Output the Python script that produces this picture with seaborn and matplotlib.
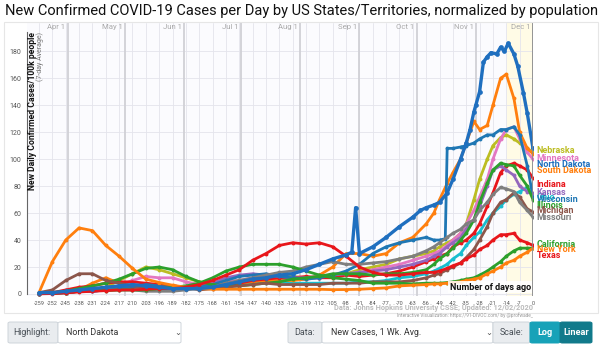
import matplotlib
matplotlib.use("Agg")
import matplotlib.pyplot as plt
import seaborn as sns
import pandas as pd
from matplotlib.patches import FancyBboxPatch, Rectangle

# ---------------- data ----------------
days = [-259, -252, -245, -238, -231, -224, -217, -210, -203, -196, -189, -182,
        -175, -168, -161, -154, -147, -140, -133, -126, -119, -112, -105, -98,
        -91, -84, -77, -70, -63, -56, -52, -49, -45, -42, -38, -35, -31, -28,
        -24, -21, -17, -14, -10, -7, -3, 0]

nd_days = [-259, -252, -245, -238, -231, -224, -217, -210, -203, -196, -189, -182,
           -175, -168, -161, -154, -147, -140, -133, -126, -119, -112, -105, -98,
           -95, -93, -91, -84, -77, -70, -63, -59, -56, -52, -49, -45, -42, -38, -35,
           -33, -31, -30, -28, -26, -24, -22, -19, -17, -15, -13, -10, -8, -5, -3, 0]
north_dakota = [1, 1, 2, 3, 4, 5, 6, 7, 6, 5, 4, 4, 4, 5, 7, 9, 11, 12, 14, 15, 18, 22,
                26, 29, 31, 64, 30, 35, 42, 50, 57, 62, 64, 66, 68, 75, 85, 100, 112,
                122, 135, 140, 150, 172, 176, 179, 178, 183, 180, 186, 178, 169, 149,
                134, 108]

wi_days = [-259, -252, -245, -238, -231, -224, -217, -210, -203, -196, -189, -182,
           -175, -168, -161, -154, -147, -140, -133, -126, -119, -112, -105, -98,
           -91, -84, -77, -70, -63, -56, -52, -49, -46, -45, -42, -38, -35, -31, -28,
           -24, -21, -17, -14, -10, -7, -3, 0]
wisconsin = [0.3, 0.5, 1, 2, 2, 3, 4, 5, 7, 6, 5, 5, 5, 7, 10, 13, 14, 15, 13, 12, 11,
             12, 14, 17, 22, 30, 35, 38, 40, 42, 40, 40, 41, 108, 108, 109, 110, 112,
             115, 118, 118, 122, 122, 124, 118, 95, 72]

south_dakota = [0.5, 1, 2, 3, 8, 12, 8, 6, 6, 6, 6, 5, 6, 7, 8, 8, 9, 10, 10, 10, 11, 14,
                20, 30, 30, 28, 30, 38, 42, 52, 60, 70, 82, 90, 100, 112, 128, 122, 125,
                140, 160, 163, 145, 120, 108, 104]
nebraska = [0.5, 1, 1, 2, 3, 5, 10, 15, 20, 18, 15, 12, 9, 8, 9, 10, 11, 12, 14, 13, 12,
            12, 14, 15, 18, 20, 22, 26, 28, 30, 32, 35, 38, 40, 45, 52, 70, 85, 100, 110,
            116, 118, 115, 112, 108, 105]
minnesota = [0.5, 1, 1, 2, 2, 3, 6, 10, 13, 12, 12, 9, 7, 7, 9, 10, 12, 12, 12, 12, 11,
             12, 14, 15, 16, 18, 20, 22, 25, 28, 30, 32, 36, 40, 45, 52, 62, 72, 85, 100,
             115, 122, 124, 115, 105, 100]
indiana = [0.5, 1, 3, 5, 6, 8, 9, 9, 8, 7, 6, 5, 5, 6, 7, 8, 10, 11, 12, 12, 13, 12, 12,
           14, 13, 14, 15, 17, 20, 24, 26, 28, 30, 35, 38, 40, 45, 52, 65, 75, 90, 95, 97,
           95, 92, 86]
illinois = [0.5, 1, 2, 4, 6, 8, 11, 15, 19, 20, 18, 13, 9, 7, 6, 6, 7, 8, 9, 11, 12, 13,
            15, 15, 15, 14, 15, 15, 16, 18, 22, 26, 30, 34, 40, 45, 55, 68, 82, 92, 97, 96,
            95, 88, 80, 70]
kansas = [0.3, 0.5, 1, 2, 2, 3, 4, 5, 5, 4, 4, 5, 6, 8, 12, 14, 15, 14, 13, 12, 12, 13,
          14, 15, 16, 17, 18, 20, 22, 25, 28, 30, 35, 38, 42, 48, 55, 65, 80, 92, 95, 92,
          88, 80, 76, 75]
ohio = [0.2, 0.5, 1, 2, 3, 4, 5, 5, 5, 4, 4, 4, 5, 7, 9, 10, 10, 9, 9, 8, 8, 8, 8, 8, 9,
        9, 10, 12, 13, 15, 17, 19, 22, 26, 30, 36, 42, 46, 55, 60, 65, 70, 74, 76, 79, 73]
michigan = [1, 3, 10, 15, 15, 10, 8, 6, 5, 5, 6, 5, 3, 4, 5, 6, 7, 8, 7, 7, 7, 7, 8, 8,
            8, 9, 9, 9, 10, 12, 14, 15, 18, 20, 23, 27, 33, 40, 50, 60, 68, 70, 75, 72, 63, 61]
missouri = [0.2, 0.5, 1, 2, 3, 3, 3, 3, 2, 2, 2, 3, 4, 5, 8, 10, 12, 14, 16, 17, 20, 22,
            24, 22, 22, 23, 24, 26, 28, 32, 35, 38, 42, 45, 48, 52, 55, 62, 68, 74, 79, 78,
            76, 68, 62, 57]
california = [0.3, 0.5, 1, 2, 3, 2.5, 3, 3, 3, 4, 5, 6, 8, 12, 17, 20, 22, 22, 22, 20, 17,
              14, 12, 11, 10, 8, 8, 8, 7.5, 8, 8, 8, 8.5, 9, 10, 11, 12, 14, 17, 20, 24, 28,
              32, 34, 34, 34]
new_york = [1, 24, 40, 49, 47, 36, 28, 19, 11, 8.5, 6.5, 5, 4, 3.5, 3.5, 3.5, 3.5, 3.5,
            3.5, 3.5, 3.5, 3.5, 3.2, 3.3, 3.5, 4, 4.5, 6, 6.5, 7, 7.5, 7.5, 8, 8.5, 9, 10,
            11, 12, 15, 17, 20, 23, 25, 28, 31, 34]
texas = [0.1, 0.3, 0.8, 1.5, 2, 2.5, 3, 3, 3.5, 4, 4, 5, 7, 10, 14, 18, 25, 30, 36, 38,
         37, 38, 35, 28, 20, 16, 14, 14, 15, 16, 16, 17, 19, 21, 23, 26, 29, 33, 36, 40,
         44, 44, 45, 40, 38, 36]

state_names = ["Ohio", "Nebraska", "Minnesota", "South Dakota", "Indiana", "Kansas",
               "Wisconsin", "Illinois", "Michigan", "Missouri", "California", "New York",
               "Texas", "North Dakota"]
state_days = [days, days, days, days, days, days, wi_days, days, days, days, days, days,
              days, nd_days]
state_values = [ohio, nebraska, minnesota, south_dakota, indiana, kansas, wisconsin,
                illinois, michigan, missouri, california, new_york, texas, north_dakota]
state_colors = ["#17becf", "#bcbd22", "#e377c2", "#ff7f0e", "#e8161b", "#9467bd",
                "#1f77b4", "#2ca02c", "#8c564b", "#7f7f7f", "#2ca02c", "#ff7f0e",
                "#e8161b", "#1f6fbf"]
label_y = [71.8, 106.2, 100.7, 91.5, 81.4, 75.2, 69.8, 66.0, 61.6, 57.0, 37.0, 32.7,
           28.2, 96.3]

x_ticks = [-259, -252, -245, -238, -231, -224, -217, -210, -203, -196, -189, -182,
           -175, -168, -161, -154, -147, -140, -133, -126, -119, -112, -105, -98, -91,
           -84, -77, -70, -63, -56, -49, -42, -35, -28, -21, -14, -7, 0]
y_ticks = [0, 20, 40, 60, 80, 100, 120, 140, 160, 180]
month_names = ["Apr 1", "May 1", "Jun 1", "Jul 1", "Aug 1", "Sep 1", "Oct 1", "Nov 1", "Dec 1"]
month_days = [-244, -214, -183, -153, -122, -91, -61, -30, 0]

# ---------------- figure ----------------
sns.set_theme(style="white")
plt.rcParams['font.family'] = ['Roboto', 'DejaVu Sans']
plt.rcParams['axes.unicode_minus'] = False

W, H = 600, 345
fig = plt.figure(figsize=(6, 3.45), dpi=100)
fig.patch.set_facecolor("white")


def fx(x):
    return x / W


def fy(y):
    return 1 - y / H


# chart frame
fig.patches.append(Rectangle((fx(4), fy(313)), fx(594), (313 - 22) / H,
                             transform=fig.transFigure, fc="none", ec="#e6e6e6", lw=0.8))

ax = fig.add_axes([fx(27), fy(296), (533 - 27) / W, (296 - 23) / H])
ax.set_facecolor("#fbfbfe")
ax.set_xlim(-265.3, 0)
ax.set_ylim(-1.5, 201)

# highlight band (last two weeks)
ax.axvspan(-13.5, 0, color="#fffbe6", zorder=0)

# grid
for d in x_ticks:
    ax.axvline(d, color="#e4e4ec", lw=0.6, zorder=0.5)
for v in y_ticks:
    ax.axhline(v, color="#e4e4ec", lw=0.6, zorder=0.5)
for m, name in zip(month_days, month_names):
    ax.axvline(m, color="#d0d0d6", lw=1.3, zorder=0.6)
    ax.text(m - 1.2, 198, name, ha="right", va="center", fontsize=5.6, color="#aaaaaa")

# lines
df = pd.concat([
    pd.DataFrame({"day": dl, "value": vl, "state": name})
    for name, dl, vl in zip(state_names, state_days, state_values)
], ignore_index=True)
for name, color in zip(state_names, state_colors):
    sub = df[df["state"] == name]
    hl = name == "North Dakota"
    sns.lineplot(data=sub, x="day", y="value", color=color, ax=ax,
                 lw=2.4 if hl else 2.0, marker="o", markersize=3.4 if hl else 2.8,
                 markeredgewidth=0, zorder=5 if hl else 3, legend=False)

# end labels
for name, color, ly in zip(state_names, state_colors, label_y):
    ax.text(2.0, ly, name, color=color, fontsize=6.5, fontweight="bold",
            ha="left", va="center", clip_on=False)

ax.axvline(0, color="#8a8a8a", lw=1.2, zorder=6)

# axes styling
for s in ["top", "right", "bottom"]:
    ax.spines[s].set_visible(False)
ax.spines["left"].set_color("#666666")
ax.spines["left"].set_linewidth(0.8)
ax.spines["left"].set_bounds(0, 194)
ax.set_xticks(x_ticks)
ax.set_xticklabels([str(t) for t in x_ticks])
ax.set_yticks(y_ticks)
ax.tick_params(axis="x", labelsize=4.0, colors="#555555", length=2, width=0.5, pad=1.5)
ax.tick_params(axis="y", labelsize=5, colors="#555555", length=2.5, width=0.6, pad=1.5)
ax.set_xlabel("")
ax.set_ylabel("")

ax.text(-262.6, 194, "New Daily Confirmed Cases/100k people", rotation=90,
        ha="center", va="top", fontsize=6.2, fontweight="bold", color="#111111")
ax.text(-258.3, 194, "(7-day Average)", rotation=90, ha="center", va="top",
        fontsize=5, color="#777777")
ax.text(-1.2, 5.0, "Number of days ago", ha="right", va="center", fontsize=6.5,
        fontweight="bold", color="#111111", zorder=7,
        bbox=dict(boxstyle="square,pad=0.15", fc="white", ec="none", alpha=0.85))

# title & credits
fig.text(fx(5), fy(11), "New Confirmed COVID-19 Cases per Day by US States/Territories, "
         "normalized by population", fontsize=10.5, va="center", ha="left", color="#111111")
fig.text(fx(533), fy(308.5), "Data: Johns Hopkins University CSSE; Updated: 12/02/2020",
         fontsize=5.3, ha="right", va="center", color="#bbbbbb", fontweight="bold")
fig.text(fx(533), fy(315.5), "Interactive Visualization: https://91-DIVOC.com/ by @profwade_",
         fontsize=3.4, ha="right", va="center", color="#999999")


# bottom control bar
def box(x0, y0, x1, y1, fc, ec="#ced4da", lw=0.7):
    fig.patches.append(FancyBboxPatch((fx(x0), fy(y1)), fx(x1 - x0), (y1 - y0) / H,
                                      boxstyle="round,pad=0,rounding_size=0.004",
                                      transform=fig.transFigure, fc=fc, ec=ec, lw=lw))


box(8, 322, 58, 343, "#e9ecef")
box(58, 322, 181, 343, "white")
fig.text(fx(13), fy(332.5), "Highlight:", fontsize=6.4, color="#495057", va="center")
fig.text(fx(66), fy(332.5), "North Dakota", fontsize=6.4, color="#333333", va="center")
fig.text(fx(174), fy(332.5), "\u2304", fontsize=6, color="#555555", va="center",
         family=["DejaVu Sans"])

box(288, 322, 322, 343, "#e9ecef")
box(322, 322, 493, 343, "white")
fig.text(fx(294), fy(332.5), "Data:", fontsize=6.4, color="#495057", va="center")
fig.text(fx(331), fy(332.5), "New Cases, 1 Wk. Avg.", fontsize=6.4, color="#333333",
         va="center")
fig.text(fx(485), fy(332.5), "\u2304", fontsize=6, color="#555555", va="center",
         family=["DejaVu Sans"])

box(493, 322, 530, 343, "#e9ecef")
fig.text(fx(500), fy(332.5), "Scale:", fontsize=6.4, color="#495057", va="center")
box(530, 322, 560, 343, "#17a2b8", ec="#17a2b8")
box(560, 322, 592, 343, "#117a8b", ec="#117a8b")
fig.text(fx(545), fy(332.5), "Log", fontsize=6.6, color="white", va="center",
         ha="center", fontweight="bold")
fig.text(fx(576), fy(332.5), "Linear", fontsize=6.6, color="white", va="center",
         ha="center", fontweight="bold")

fig.savefig("out.png", dpi=100, facecolor="white")
